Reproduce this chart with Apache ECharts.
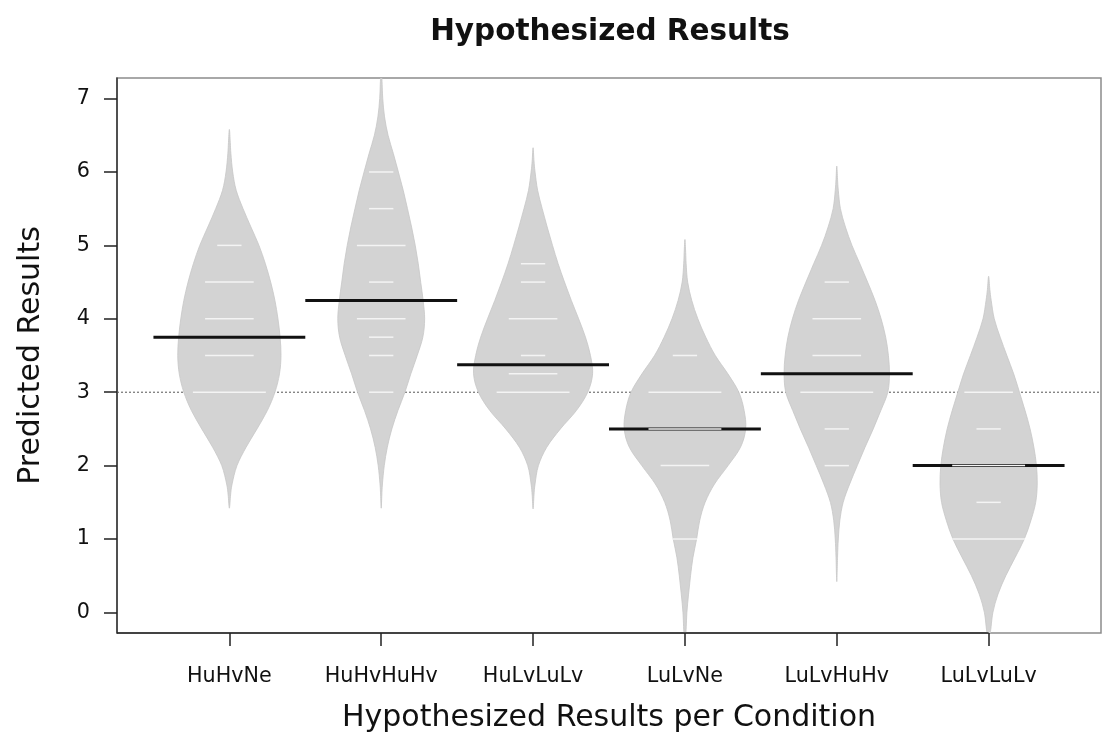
<!DOCTYPE html>
<html>
<head>
<meta charset="utf-8">
<title>Hypothesized Results</title>
<script src="https://cdn.jsdelivr.net/npm/echarts@6/dist/echarts.min.js"></script>
<style>
  html, body { margin: 0; padding: 0; background: #ffffff; }
  #chart { width: 1102px; height: 738px; }
</style>
</head>
<body>
<div id="chart"></div>
<script>
// Conditions along the x axis (bean positions 1..6)
const categories = ['HuHvNe', 'HuHvHuHv', 'HuLvLuLv', 'LuLvNe', 'LuLvHuHv', 'LuLvLuLv'];
const yTicks = [0, 1, 2, 3, 4, 5, 6, 7];

// Bean outlines: [predicted result, half width of the bean in category units]
const outlineHuHvNe = [[6.58, 0], [6.4, 0.006], [6.25, 0.01], [6.0, 0.022], [5.75, 0.045], [5.5, 0.09], [5.25, 0.142], [5.0, 0.195], [4.75, 0.237], [4.5, 0.272], [4.25, 0.3], [4.0, 0.32], [3.75, 0.334], [3.5, 0.34], [3.25, 0.33], [3.0, 0.3], [2.75, 0.25], [2.5, 0.182], [2.25, 0.11], [2.0, 0.05], [1.75, 0.018], [1.6, 0.008], [1.42, 0]];
const outlineHuHvHuHv = [[7.28, 0.004], [7.0, 0.01], [6.75, 0.022], [6.5, 0.045], [6.25, 0.08], [6.0, 0.113], [5.75, 0.145], [5.5, 0.173], [5.25, 0.2], [5.0, 0.224], [4.75, 0.244], [4.5, 0.26], [4.25, 0.276], [4.0, 0.286], [3.75, 0.274], [3.5, 0.237], [3.25, 0.195], [3.0, 0.156], [2.75, 0.11], [2.5, 0.07], [2.25, 0.04], [2.0, 0.02], [1.75, 0.008], [1.6, 0.004], [1.42, 0]];
const outlineHuLvLuLv = [[6.33, 0], [6.15, 0.006], [6.0, 0.013], [5.75, 0.03], [5.5, 0.06], [5.25, 0.093], [5.0, 0.128], [4.75, 0.165], [4.5, 0.207], [4.25, 0.252], [4.0, 0.3], [3.75, 0.345], [3.5, 0.378], [3.25, 0.392], [3.0, 0.36], [2.75, 0.285], [2.5, 0.18], [2.25, 0.09], [2.0, 0.035], [1.75, 0.013], [1.6, 0.006], [1.41, 0]];
const outlineLuLvNe = [[5.08, 0], [4.9, 0.005], [4.75, 0.008], [4.5, 0.018], [4.25, 0.045], [4.0, 0.085], [3.75, 0.137], [3.5, 0.2], [3.25, 0.283], [3.0, 0.355], [2.75, 0.39], [2.5, 0.4], [2.25, 0.366], [2.0, 0.284], [1.75, 0.195], [1.5, 0.133], [1.25, 0.097], [1.0, 0.077], [0.75, 0.053], [0.5, 0.037], [0.25, 0.024], [0.0, 0.013], [-0.28, 0.006]];
const outlineLuLvHuHv = [[6.08, 0], [5.9, 0.005], [5.75, 0.01], [5.5, 0.024], [5.25, 0.057], [5.0, 0.1], [4.75, 0.152], [4.5, 0.203], [4.25, 0.252], [4.0, 0.292], [3.75, 0.322], [3.5, 0.34], [3.25, 0.347], [3.0, 0.336], [2.75, 0.29], [2.5, 0.24], [2.25, 0.186], [2.0, 0.135], [1.75, 0.085], [1.5, 0.042], [1.25, 0.02], [1.0, 0.01], [0.75, 0.005], [0.42, 0]];
const outlineLuLvLuLv = [[4.58, 0], [4.4, 0.008], [4.25, 0.017], [4.0, 0.037], [3.75, 0.076], [3.5, 0.12], [3.25, 0.165], [3.0, 0.203], [2.75, 0.24], [2.5, 0.273], [2.25, 0.298], [2.0, 0.315], [1.75, 0.32], [1.5, 0.31], [1.25, 0.278], [1.0, 0.235], [0.75, 0.175], [0.5, 0.113], [0.25, 0.062], [0.0, 0.028], [-0.28, 0.01]];

// Individual responses: [value, number of responses with that value]
const linesHuHvNe = [[5, 1], [4.5, 2], [4, 2], [3.5, 2], [3, 3]];
const linesHuHvHuHv = [[6, 1], [5.5, 1], [5, 2], [4.5, 1], [4, 2], [3.75, 1], [3.5, 1], [3, 1]];
const linesHuLvLuLv = [[4.75, 1], [4.5, 1], [4, 2], [3.5, 1], [3.25, 2], [3, 3]];
const linesLuLvNe = [[3.5, 1], [3, 3], [2.5, 3], [2, 2], [1, 1]];
const linesLuLvHuHv = [[4.5, 1], [4, 2], [3.5, 2], [3, 3], [2.5, 1], [2, 1]];
const linesLuLvLuLv = [[3, 2], [2.5, 1], [2, 3], [1.5, 1], [1, 3]];

// Group means and the overall mean
const beanMeans = [3.75, 4.25, 3.375, 2.5, 3.25, 2.0];
const overallMean = 3.0;

const outlines = [outlineHuHvNe, outlineHuHvHuHv, outlineHuLvLuLv, outlineLuLvNe, outlineLuLvHuHv, outlineLuLvLuLv];
const beanLines = [linesHuHvNe, linesHuHvHuHv, linesHuLvLuLv, linesLuLvNe, linesLuLvHuHv, linesLuLvLuLv];

const X_MIN = 0.26, X_MAX = 6.74, Y_MIN = -0.28, Y_MAX = 7.28;
const LINE_PER_RESPONSE = 0.16;
const FONT = 'DejaVu Sans';

const positions = categories.map((c, i) => i + 1);

// flat list of individual-response lines: [position, value, count]
const responseData = [];
beanLines.forEach((list, i) => list.forEach(([v, n]) => responseData.push([positions[i], v, n])));

// closed Catmull-Rom curve through pixel points, as SVG path data
function closedCurvePath(pts) {
  const n = pts.length;
  const f = v => v.toFixed(2);
  let d = 'M' + f(pts[0][0]) + ',' + f(pts[0][1]);
  for (let i = 0; i < n; i++) {
    const p0 = pts[(i - 1 + n) % n], p1 = pts[i], p2 = pts[(i + 1) % n], p3 = pts[(i + 2) % n];
    const c1x = p1[0] + (p2[0] - p0[0]) / 6, c1y = p1[1] + (p2[1] - p0[1]) / 6;
    const c2x = p2[0] - (p3[0] - p1[0]) / 6, c2y = p2[1] - (p3[1] - p1[1]) / 6;
    d += 'C' + f(c1x) + ',' + f(c1y) + ',' + f(c2x) + ',' + f(c2y) + ',' + f(p2[0]) + ',' + f(p2[1]);
  }
  return d + 'Z';
}

const chart = echarts.init(document.getElementById('chart'), null, { renderer: 'canvas' });

chart.setOption({
  animation: false,
  backgroundColor: '#ffffff',
  title: {
    text: 'Hypothesized Results',
    left: 605,
    top: 12,
    textAlign: 'center',
    textStyle: { fontFamily: FONT, fontSize: 29.5, fontWeight: 'bold', color: '#111' }
  },
  grid: {
    left: 117, top: 78, right: 1, bottom: 102,
    show: true, borderColor: '#8c8c8c', borderWidth: 1.5, backgroundColor: 'transparent'
  },
  xAxis: {
    type: 'value', min: X_MIN, max: X_MAX,
    splitLine: { show: false },
    axisLine: { show: false, onZero: false },
    axisTick: { show: true, customValues: positions, length: 13, lineStyle: { color: '#222', width: 1.5 } },
    axisLabel: {
      customValues: positions, margin: 33,
      formatter: v => categories[Math.round(v) - 1],
      fontFamily: FONT, fontSize: 20.7, color: '#111'
    },
    name: 'Hypothesized Results per Condition',
    nameLocation: 'middle', nameGap: 70,
    nameTextStyle: { fontFamily: FONT, fontSize: 30, color: '#111' }
  },
  yAxis: {
    type: 'value', min: Y_MIN, max: Y_MAX,
    splitLine: { show: false },
    axisLine: { show: true, onZero: false, lineStyle: { color: '#333', width: 1.5 } },
    axisTick: { show: true, customValues: yTicks, length: 13, lineStyle: { color: '#222', width: 1.5 } },
    axisLabel: {
      customValues: yTicks, margin: 27,
      formatter: v => String(Math.round(v)),
      fontFamily: FONT, fontSize: 20.7, color: '#111'
    },
    name: 'Predicted Results',
    nameLocation: 'middle', nameGap: 71,
    nameTextStyle: { fontFamily: FONT, fontSize: 30, color: '#111', padding: [0, 0, 0, 0] }
  },
  series: [
    {
      // overall mean, dotted, behind the beans
      type: 'line', z: 1, silent: true, symbol: 'none',
      data: [[X_MIN, overallMean], [X_MAX, overallMean]],
      lineStyle: { color: '#555', width: 1, type: [2, 2] }
    },
    {
      // darker bottom axis line up to the last condition
      type: 'line', z: 5, silent: true, symbol: 'none', clip: false,
      data: [[X_MIN, Y_MIN], [positions[positions.length - 1], Y_MIN]],
      lineStyle: { color: '#222', width: 1.5 }
    },
    {
      // bean densities
      type: 'custom', z: 2, clip: true, silent: true,
      data: positions.map(p => [p]),
      renderItem: function (params, api) {
        const i = params.dataIndex;
        const pos = positions[i];
        const outline = outlines[i];
        const pts = [];
        outline.forEach(([v, hw]) => pts.push(api.coord([pos - hw, v])));
        for (let k = outline.length - 1; k >= 0; k--) {
          const [v, hw] = outline[k];
          if (hw > 0) pts.push(api.coord([pos + hw, v]));
        }
        return {
          type: 'path',
          shape: { pathData: closedCurvePath(pts) },
          style: { fill: '#d3d3d3', stroke: '#c6c6c6', lineWidth: 0.8 }
        };
      }
    },
    {
      // group means
      type: 'custom', z: 3, clip: true, silent: true,
      data: positions.map((p, i) => [p, beanMeans[i]]),
      renderItem: function (params, api) {
        const p = api.value(0), m = api.value(1);
        const a = api.coord([p - 0.5, m]);
        const b = api.coord([p + 0.5, m]);
        return {
          type: 'line',
          shape: { x1: a[0], y1: a[1], x2: b[0], y2: b[1] },
          style: { stroke: '#111', lineWidth: 3 }
        };
      }
    },
    {
      // one line per response; longer where responses coincide
      type: 'custom', z: 4, clip: true, silent: true,
      data: responseData,
      renderItem: function (params, api) {
        const p = api.value(0), v = api.value(1), n = api.value(2);
        const half = LINE_PER_RESPONSE * n / 2;
        const a = api.coord([p - half, v]);
        const b = api.coord([p + half, v]);
        return {
          type: 'line',
          shape: { x1: a[0], y1: a[1], x2: b[0], y2: b[1] },
          style: { stroke: '#f4f4f4', lineWidth: 1.5 }
        };
      }
    }
  ]
});
</script>
</body>
</html>
